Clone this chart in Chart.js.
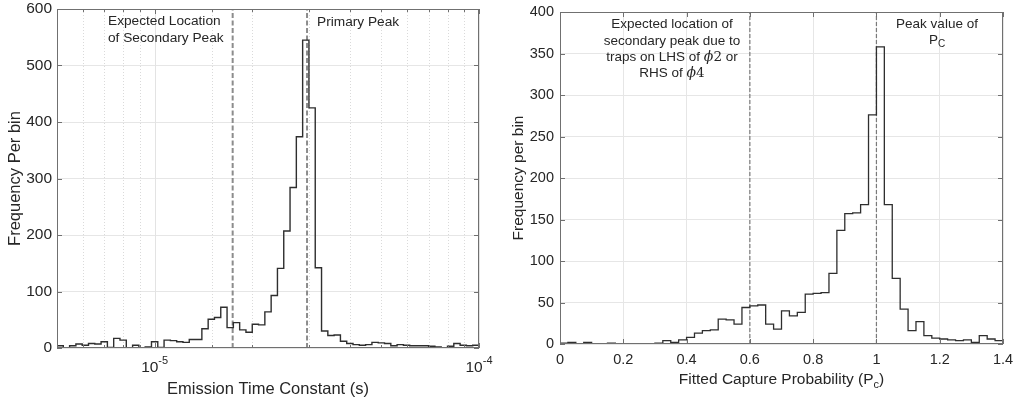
<!DOCTYPE html>
<html>
<head>
<meta charset="utf-8">
<script src="https://cdn.jsdelivr.net/npm/chart.js@4.4.0/dist/chart.umd.min.js"></script>
<style>
  html, body { margin: 0; padding: 0; background: #fff; }
  #wrap { position: relative; width: 1016px; height: 405px; }
  .panel { position: absolute; top: 0; height: 405px; }
  #left { left: 0; width: 505px; }
  #right { left: 505px; width: 511px; }
</style>
</head>
<body>
<div id="wrap">
  <div class="panel" id="left"><canvas id="emissionChart"></canvas></div>
  <div class="panel" id="right"><canvas id="captureChart"></canvas></div>
</div>
<script>
// Left panel: emission time constant histogram (log-spaced bins)
const emissionRange = [5e-6, 1e-4];
const emissionCounts = [
  4, 0, 4, 7, 5, 8, 7, 11, 1, 17,
  14, 0, 5, 0, 2, 11, 1, 14, 13, 11,
  10, 15, 15, 34, 51, 54, 72, 36, 45, 32,
  28, 42, 41, 64, 93, 141, 207, 284, 374, 545,
  425, 142, 30, 22, 23, 12, 8, 6, 5, 6,
  10, 9, 8, 4, 6, 5, 4, 4, 4, 3,
  2, 0, 3, 8, 5, 4, 5
];
const emissionMarkers = [1.74e-5, 2.95e-5];
const emissionYMax = 600;
const emissionYStep = 100;
const emissionXTicks = [1e-5, 1e-4];
const emissionXExponents = ['-5', '-4'];

// Right panel: fitted capture probability histogram
const captureRange = [0, 1.4];
const captureBinWidth = 0.025;
const captureCounts = [
  1, 2, 0, 2, 0, 0, 1, 0, 0, 0,
  0, 0, 1, 4, 2, 5, 8, 13, 16, 17,
  30, 29, 24, 44, 46, 47, 24, 18, 40, 34,
  38, 60, 61, 62, 85, 137, 157, 158, 168, 276,
  358, 168, 79, 42, 16, 27, 10, 7, 6, 5,
  4, 5, 2, 10, 6, 4
];
const captureMarkers = [0.6, 1.0];
const captureYMax = 400;
const captureYStep = 50;
const captureXStep = 0.2;

const FONT = '"Liberation Sans", Arial, Helvetica, sans-serif';
const SERIF = '"DejaVu Serif", "Liberation Serif", serif';
const INK = '#262626';
const AXIS = '#707070';

function font(size, style) {
  return (style ? style + ' ' : '') + size + 'px ' + FONT;
}

// bin edges -> points for a stepped line (value holds until the next edge)
function stairs(edges, counts) {
  const pts = counts.map((c, i) => ({ x: edges[i], y: c }));
  pts.push({ x: edges[edges.length - 1], y: counts[counts.length - 1] });
  return pts;
}

function markerSets(values, yMax, color, width, dash) {
  return values.map(v => ({
    data: [{ x: v, y: 0 }, { x: v, y: yMax }],
    borderColor: color,
    borderWidth: width,
    borderDash: dash,
    pointRadius: 0,
    fill: false
  }));
}

// text made of pieces with different fonts / offsets (sub- and superscripts)
function rich(ctx, parts, x, y, align) {
  let total = 0;
  parts.forEach(p => { ctx.font = p.font; p.w = ctx.measureText(p.t).width; total += p.w; });
  let cx = align === 'center' ? x - total / 2 : (align === 'right' ? x - total : x);
  ctx.textAlign = 'left';
  ctx.textBaseline = 'middle';
  parts.forEach(p => {
    ctx.font = p.font;
    ctx.fillText(p.t, cx, y + (p.dy || 0));
    cx += p.w;
  });
}

function drawBox(ctx, a) {
  ctx.strokeStyle = AXIS;
  ctx.lineWidth = 1;
  ctx.strokeRect(Math.round(a.left) + 0.5, Math.round(a.top) + 0.5,
    Math.round(a.right - a.left) - 1, Math.round(a.bottom - a.top) - 1);
}

function yTicksInward(ctx, a, ys, len) {
  ys.ticks.forEach(t => {
    const y = Math.round(ys.getPixelForValue(t.value)) + 0.5;
    ctx.moveTo(a.left, y); ctx.lineTo(a.left + len, y);
    ctx.moveTo(a.right, y); ctx.lineTo(a.right - len, y);
  });
}

function yTitle(ctx, text, x, a, size) {
  ctx.save();
  ctx.translate(x, (a.top + a.bottom) / 2);
  ctx.rotate(-Math.PI / 2);
  ctx.font = font(size);
  ctx.textAlign = 'center';
  ctx.textBaseline = 'middle';
  ctx.fillText(text, 0, 0);
  ctx.restore();
}

function isDecade(v) {
  const l = Math.log10(v);
  return Math.abs(l - Math.round(l)) < 1e-6;
}

// ---------- left chart ----------
const emissionEdges = [];
const logMin = Math.log10(emissionRange[0]);
const logStep = (Math.log10(emissionRange[1]) - logMin) / emissionCounts.length;
for (let i = 0; i <= emissionCounts.length; i++) {
  emissionEdges.push(Math.pow(10, logMin + i * logStep));
}

const emissionOverlay = {
  id: 'emissionOverlay',
  beforeDatasetsDraw(chart) {
    const ctx = chart.ctx, a = chart.chartArea, xs = chart.scales.x;
    ctx.save();
    xs.ticks.forEach(t => {
      const x = Math.round(xs.getPixelForValue(t.value)) + 0.5;
      ctx.beginPath();
      if (isDecade(t.value)) {
        ctx.strokeStyle = '#e3e3e3';
        ctx.setLineDash([]);
      } else {
        ctx.strokeStyle = '#dadada';
        ctx.setLineDash([1, 2]);
      }
      ctx.moveTo(x, a.top);
      ctx.lineTo(x, a.bottom);
      ctx.stroke();
    });
    ctx.restore();
  },
  afterDatasetsDraw(chart) {
    const ctx = chart.ctx, a = chart.chartArea, xs = chart.scales.x, ys = chart.scales.y;
    ctx.save();
    ctx.strokeStyle = AXIS;
    ctx.lineWidth = 1;
    ctx.beginPath();
    yTicksInward(ctx, a, ys, 5);
    xs.ticks.forEach(t => {
      const x = Math.round(xs.getPixelForValue(t.value)) + 0.5;
      const len = isDecade(t.value) ? 5 : 3;
      ctx.moveTo(x, a.bottom); ctx.lineTo(x, a.bottom - len);
      ctx.moveTo(x, a.top); ctx.lineTo(x, a.top + len);
    });
    ctx.stroke();
    drawBox(ctx, a);

    ctx.fillStyle = INK;
    emissionXTicks.forEach((v, i) => {
      rich(ctx, [
        { t: '10', font: font(15.5) },
        { t: emissionXExponents[i], font: font(11), dy: -7 }
      ], xs.getPixelForValue(v), 368, 'center');
    });
    ctx.font = font(16.5);
    ctx.textAlign = 'center';
    ctx.textBaseline = 'middle';
    ctx.fillText('Emission Time Constant (s)', (a.left + a.right) / 2, 389);
    yTitle(ctx, 'Frequency Per bin', 15, a, 16.5);

    ctx.font = font(13.7);
    ctx.textAlign = 'left';
    ctx.fillText('Expected Location', 108, 21);
    ctx.fillText('of Secondary Peak', 108, 38);
    ctx.fillText('Primary Peak', 317, 22);
    ctx.restore();
  }
};

new Chart(document.getElementById('emissionChart'), {
  type: 'line',
  data: {
    datasets: [{
      data: stairs(emissionEdges, emissionCounts),
      stepped: 'before',
      borderColor: '#2e2e2e',
      borderWidth: 1.4,
      pointRadius: 0,
      fill: false
    }].concat(markerSets(emissionMarkers, emissionYMax, '#8c8c8c', 2, [5, 2.5]))
  },
  options: {
    responsive: true,
    maintainAspectRatio: false,
    animation: false,
    events: [],
    layout: { padding: { left: 0, right: 26, top: 9, bottom: 0 } },
    plugins: { legend: { display: false }, tooltip: { enabled: false } },
    scales: {
      x: {
        type: 'logarithmic',
        min: emissionRange[0],
        max: emissionRange[1],
        afterFit: s => { s.height = 57; s.paddingLeft = 0; s.paddingRight = 0; },
        ticks: { display: false },
        grid: { display: false },
        border: { display: false }
      },
      y: {
        min: 0,
        max: emissionYMax,
        afterFit: s => { s.width = 57; s.paddingTop = 0; s.paddingBottom = 0; },
        ticks: { stepSize: emissionYStep, font: { family: FONT, size: 15.5 }, color: INK, padding: 5 },
        grid: { drawTicks: false, color: '#e6e6e6' },
        border: { display: false }
      }
    }
  },
  plugins: [emissionOverlay]
});

// ---------- right chart ----------
const captureEdges = [];
for (let i = 0; i <= captureCounts.length; i++) {
  captureEdges.push(captureRange[0] + i * captureBinWidth);
}

const captureOverlay = {
  id: 'captureOverlay',
  afterDatasetsDraw(chart) {
    const ctx = chart.ctx, a = chart.chartArea, xs = chart.scales.x, ys = chart.scales.y;
    ctx.save();
    ctx.strokeStyle = AXIS;
    ctx.lineWidth = 1;
    ctx.beginPath();
    yTicksInward(ctx, a, ys, 5);
    xs.ticks.forEach(t => {
      const x = Math.round(xs.getPixelForValue(t.value)) + 0.5;
      ctx.moveTo(x, a.bottom); ctx.lineTo(x, a.bottom - 5);
      ctx.moveTo(x, a.top); ctx.lineTo(x, a.top + 5);
    });
    ctx.stroke();
    drawBox(ctx, a);

    ctx.fillStyle = INK;
    rich(ctx, [
      { t: 'Fitted Capture Probability (P', font: font(15.5) },
      { t: 'c', font: font(11), dy: 5 },
      { t: ')', font: font(15.5) }
    ], (a.left + a.right) / 2, 380, 'center');
    yTitle(ctx, 'Frequency per bin', 14, a, 15.5);

    const note = font(13.5);
    const phi = 'italic 14px ' + SERIF;
    const num = '13.5px ' + SERIF;
    rich(ctx, [{ t: 'Expected location of', font: note }], 167, 24, 'center');
    rich(ctx, [{ t: 'secondary peak due to', font: note }], 167, 41, 'center');
    rich(ctx, [
      { t: 'traps on LHS of ', font: note },
      { t: '\u03d5', font: phi },
      { t: '2', font: num },
      { t: ' or', font: note }
    ], 167, 57, 'center');
    rich(ctx, [
      { t: 'RHS of ', font: note },
      { t: '\u03d5', font: phi },
      { t: '4', font: num }
    ], 167, 73, 'center');
    rich(ctx, [{ t: 'Peak value of', font: note }], 432, 24, 'center');
    rich(ctx, [
      { t: 'P', font: note },
      { t: 'C', font: font(10), dy: 4 }
    ], 432, 40, 'center');
    ctx.restore();
  }
};

new Chart(document.getElementById('captureChart'), {
  type: 'line',
  data: {
    datasets: [{
      data: stairs(captureEdges, captureCounts),
      stepped: 'before',
      borderColor: '#2e2e2e',
      borderWidth: 1.3,
      pointRadius: 0,
      fill: false
    }].concat(markerSets(captureMarkers, captureYMax, '#7a7a7a', 1.2, [4, 2]))
  },
  options: {
    responsive: true,
    maintainAspectRatio: false,
    animation: false,
    events: [],
    layout: { padding: { left: 0, right: 13, top: 12, bottom: 0 } },
    plugins: { legend: { display: false }, tooltip: { enabled: false } },
    scales: {
      x: {
        type: 'linear',
        min: captureRange[0],
        max: captureRange[1],
        afterFit: s => { s.height = 61; s.paddingLeft = 0; s.paddingRight = 0; },
        ticks: {
          stepSize: captureXStep,
          autoSkip: false,
          maxRotation: 0,
          font: { family: FONT, size: 14.5 },
          color: INK,
          padding: 7,
          callback: v => String(Number(v.toFixed(1)))
        },
        grid: { drawTicks: false, color: '#e6e6e6' },
        border: { display: false }
      },
      y: {
        min: 0,
        max: captureYMax,
        afterFit: s => { s.width = 55; s.paddingTop = 0; s.paddingBottom = 0; },
        ticks: { stepSize: captureYStep, font: { family: FONT, size: 14.5 }, color: INK, padding: 6 },
        grid: { drawTicks: false, color: '#e6e6e6' },
        border: { display: false }
      }
    }
  },
  plugins: [captureOverlay]
});
</script>
</body>
</html>
